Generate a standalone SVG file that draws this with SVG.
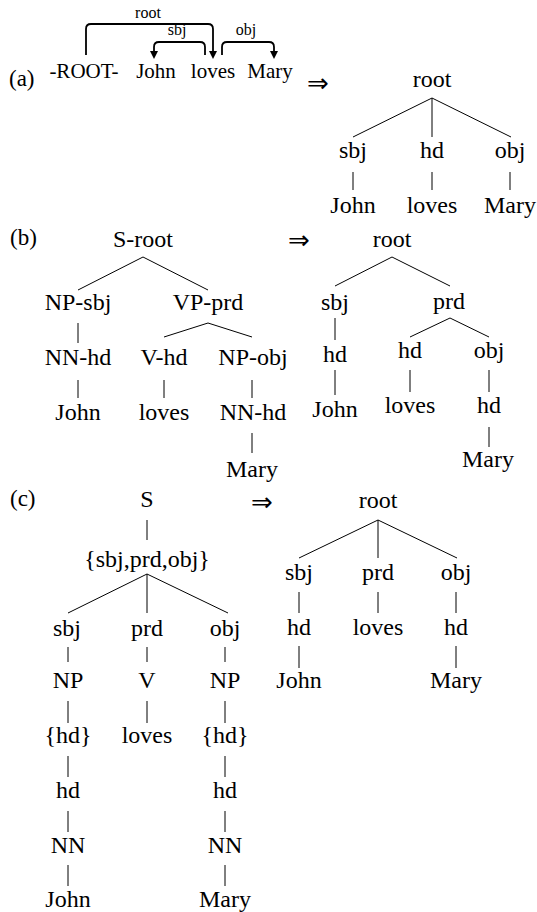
<svg xmlns="http://www.w3.org/2000/svg" width="537" height="912" viewBox="0 0 537 912">
<rect width="537" height="912" fill="#fff"/>
<g id="labels">
<text x="9" y="86" font-size="23" font-family="Liberation Serif">(a)</text>
<text x="10" y="245" font-size="23" font-family="Liberation Serif">(b)</text>
<text x="10" y="506" font-size="23" font-family="Liberation Serif">(c)</text>
<text x="307" y="92" font-size="26" font-family="DejaVu Sans">⇒</text>
<text x="288" y="249" font-size="26" font-family="DejaVu Sans">⇒</text>
<text x="251" y="511" font-size="26" font-family="DejaVu Sans">⇒</text>
</g>
<g id="connectors" stroke="#000" fill="none">
<path stroke-width="1.8" d="M86,55 V29 Q86,24 91,24 H208 Q213,24 213,29 V52"/>
<path stroke-width="1.8" d="M205,55 V47 Q205,42 200,42 H159 Q154,42 154,47 V52"/>
<path stroke-width="1.8" d="M222,55 V47 Q222,42 227,42 H269 Q274,42 274,47 V52"/>
<path fill="#000" stroke="none" d="M209,51 L217,51 L213,59 Z M150,51 L158,51 L154,59 Z M270,51 L278,51 L274,59 Z"/>
<path stroke-width="1" d="M432,98 L353,137 M432,98 L432,137 M432,98 L511,137 M353,172 V190 M432,172 V190 M510,172 V190"/>
<path stroke-width="1" d="M143,257 L78,290 M143,257 L208,290 M78,323 V343 M208,323 L164,337 M208,323 L252,337 M78,380 V398 M164,380 V398 M252,380 V398 M252,433 V453"/>
<path stroke-width="1" d="M392,257 L335,286 M392,257 L450,286 M335,318 V340 M450,318 L410,337 M450,318 L489,337 M335,370 V395 M410,370 V392 M489,370 V392 M489,427 V447"/>
<path stroke-width="1" d="M147,520 V540 M147,574 L68,613 M147,574 L147,613 M147,574 L228,613 M68,647 V662 M147,647 V662 M225,647 V662 M68,701 V723 M147,701 V723 M225,701 V723 M68,756 V777 M225,756 V777 M68,811 V832 M225,811 V832 M68,865 V886 M225,865 V886"/>
<path stroke-width="1" d="M378,520 L299,558 M378,520 L378,558 M378,520 L457,558 M299,592 V613 M378,592 V613 M456,592 V613 M299,646 V668 M456,646 V668"/>
</g>
<g id="a-sentence">
<text x="84" y="78" font-size="21" font-family="Liberation Serif" text-anchor="middle">-ROOT-</text>
<text x="156" y="78" font-size="21" font-family="Liberation Serif" text-anchor="middle">John</text>
<text x="213" y="78" font-size="21" font-family="Liberation Serif" text-anchor="middle">loves</text>
<text x="270" y="78" font-size="21" font-family="Liberation Serif" text-anchor="middle">Mary</text>
<text x="148" y="18" font-size="16" font-family="Liberation Serif" text-anchor="middle">root</text>
<text x="177" y="35" font-size="16" font-family="Liberation Serif" text-anchor="middle">sbj</text>
<text x="246" y="35" font-size="16" font-family="Liberation Serif" text-anchor="middle">obj</text>
</g>
<g id="a-tree">
<text x="432" y="87" font-size="24" font-family="Liberation Serif" text-anchor="middle">root</text>
<text x="353" y="158" font-size="24" font-family="Liberation Serif" text-anchor="middle">sbj</text>
<text x="432" y="158" font-size="24" font-family="Liberation Serif" text-anchor="middle">hd</text>
<text x="510" y="158" font-size="24" font-family="Liberation Serif" text-anchor="middle">obj</text>
<text x="353" y="213" font-size="24" font-family="Liberation Serif" text-anchor="middle">John</text>
<text x="432" y="213" font-size="24" font-family="Liberation Serif" text-anchor="middle">loves</text>
<text x="510" y="213" font-size="24" font-family="Liberation Serif" text-anchor="middle">Mary</text>
</g>
<g id="b-left">
<text x="143" y="247" font-size="24" font-family="Liberation Serif" text-anchor="middle">S-root</text>
<text x="78" y="310" font-size="24" font-family="Liberation Serif" text-anchor="middle">NP-sbj</text>
<text x="208" y="310" font-size="24" font-family="Liberation Serif" text-anchor="middle">VP-prd</text>
<text x="78" y="365" font-size="24" font-family="Liberation Serif" text-anchor="middle">NN-hd</text>
<text x="164" y="365" font-size="24" font-family="Liberation Serif" text-anchor="middle">V-hd</text>
<text x="253" y="365" font-size="24" font-family="Liberation Serif" text-anchor="middle">NP-obj</text>
<text x="78" y="420" font-size="24" font-family="Liberation Serif" text-anchor="middle">John</text>
<text x="164" y="420" font-size="24" font-family="Liberation Serif" text-anchor="middle">loves</text>
<text x="253" y="420" font-size="24" font-family="Liberation Serif" text-anchor="middle">NN-hd</text>
<text x="252" y="477" font-size="24" font-family="Liberation Serif" text-anchor="middle">Mary</text>
</g>
<g id="b-right">
<text x="392" y="247" font-size="24" font-family="Liberation Serif" text-anchor="middle">root</text>
<text x="335" y="310" font-size="24" font-family="Liberation Serif" text-anchor="middle">sbj</text>
<text x="449" y="309" font-size="24" font-family="Liberation Serif" text-anchor="middle">prd</text>
<text x="335" y="362" font-size="24" font-family="Liberation Serif" text-anchor="middle">hd</text>
<text x="410" y="358" font-size="24" font-family="Liberation Serif" text-anchor="middle">hd</text>
<text x="489" y="358" font-size="24" font-family="Liberation Serif" text-anchor="middle">obj</text>
<text x="335" y="417" font-size="24" font-family="Liberation Serif" text-anchor="middle">John</text>
<text x="410" y="413" font-size="24" font-family="Liberation Serif" text-anchor="middle">loves</text>
<text x="489" y="413" font-size="24" font-family="Liberation Serif" text-anchor="middle">hd</text>
<text x="488" y="467" font-size="24" font-family="Liberation Serif" text-anchor="middle">Mary</text>
</g>
<g id="c-left">
<text x="147" y="507" font-size="24" font-family="Liberation Serif" text-anchor="middle">S</text>
<text x="147" y="567" font-size="24" font-family="Liberation Serif" text-anchor="middle">{sbj,prd,obj}</text>
<text x="67" y="636" font-size="24" font-family="Liberation Serif" text-anchor="middle">sbj</text>
<text x="147" y="636" font-size="24" font-family="Liberation Serif" text-anchor="middle">prd</text>
<text x="225" y="636" font-size="24" font-family="Liberation Serif" text-anchor="middle">obj</text>
<text x="68" y="688" font-size="24" font-family="Liberation Serif" text-anchor="middle">NP</text>
<text x="147" y="688" font-size="24" font-family="Liberation Serif" text-anchor="middle">V</text>
<text x="225" y="688" font-size="24" font-family="Liberation Serif" text-anchor="middle">NP</text>
<text x="68" y="743" font-size="24" font-family="Liberation Serif" text-anchor="middle">{hd}</text>
<text x="147" y="743" font-size="24" font-family="Liberation Serif" text-anchor="middle">loves</text>
<text x="225" y="743" font-size="24" font-family="Liberation Serif" text-anchor="middle">{hd}</text>
<text x="68" y="798" font-size="24" font-family="Liberation Serif" text-anchor="middle">hd</text>
<text x="225" y="798" font-size="24" font-family="Liberation Serif" text-anchor="middle">hd</text>
<text x="68" y="853" font-size="24" font-family="Liberation Serif" text-anchor="middle">NN</text>
<text x="225" y="853" font-size="24" font-family="Liberation Serif" text-anchor="middle">NN</text>
<text x="68" y="907" font-size="24" font-family="Liberation Serif" text-anchor="middle">John</text>
<text x="225" y="907" font-size="24" font-family="Liberation Serif" text-anchor="middle">Mary</text>
</g>
<g id="c-right">
<text x="378" y="508" font-size="24" font-family="Liberation Serif" text-anchor="middle">root</text>
<text x="299" y="580" font-size="24" font-family="Liberation Serif" text-anchor="middle">sbj</text>
<text x="378" y="580" font-size="24" font-family="Liberation Serif" text-anchor="middle">prd</text>
<text x="456" y="580" font-size="24" font-family="Liberation Serif" text-anchor="middle">obj</text>
<text x="299" y="635" font-size="24" font-family="Liberation Serif" text-anchor="middle">hd</text>
<text x="378" y="635" font-size="24" font-family="Liberation Serif" text-anchor="middle">loves</text>
<text x="456" y="635" font-size="24" font-family="Liberation Serif" text-anchor="middle">hd</text>
<text x="299" y="688" font-size="24" font-family="Liberation Serif" text-anchor="middle">John</text>
<text x="456" y="688" font-size="24" font-family="Liberation Serif" text-anchor="middle">Mary</text>
</g>
</svg>
